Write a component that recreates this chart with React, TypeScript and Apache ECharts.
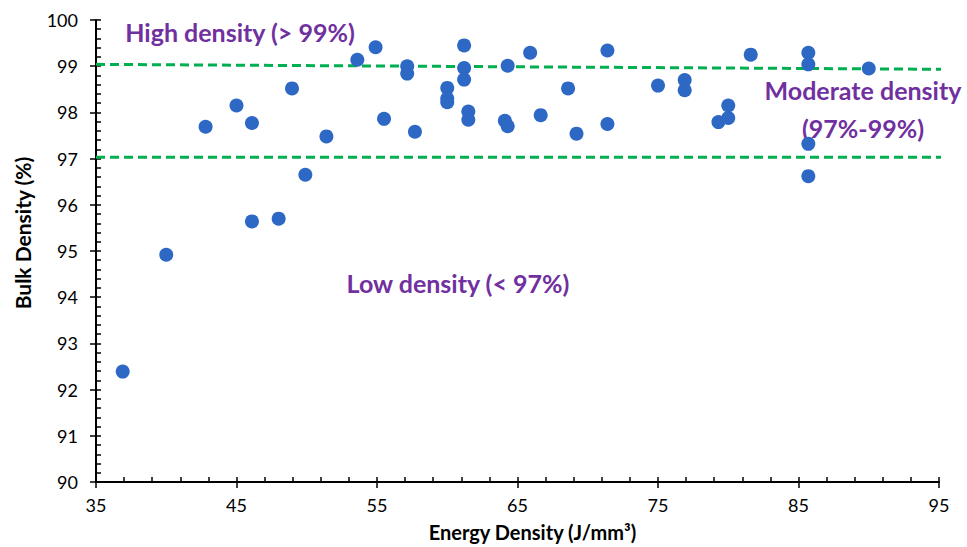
import React, { useEffect, useRef } from "react";
import * as echarts from "echarts";

const energyDensity = [
  36.9, 40.0, 42.8, 45.0, 46.1, 46.1, 48.0, 48.95, 49.9, 51.4,
  53.6, 54.9, 55.5, 57.15, 57.15, 57.7, 60.0, 60.0, 60.0, 61.2,
  61.2, 61.2, 61.5, 61.5, 64.1, 64.3, 64.3, 65.9, 66.65, 68.6,
  69.2, 71.4, 71.4, 75.0, 76.9, 76.9, 79.3, 80.0, 80.0, 81.6,
  85.7, 85.7, 85.7, 85.7, 90.0,
];
const bulkDensity = [
  92.39, 94.92, 97.69, 98.15, 97.77, 95.64, 95.7, 98.52, 96.65, 97.48,
  99.14, 99.41, 97.86, 99.0, 98.84, 97.58, 98.53, 98.3, 98.22, 99.45,
  98.96, 98.71, 98.02, 97.84, 97.82, 99.01, 97.7, 99.29, 97.94, 98.52,
  97.54, 99.34, 97.75, 98.58, 98.7, 98.48, 97.79, 98.15, 97.88, 99.25,
  99.29, 99.04, 97.32, 96.62, 98.95,
];
const highLine = [
  [35, 99.04],
  [97.05, 98.93],
];
const lowLine = [
  [35, 97.03],
  [97.05, 97.03],
];
const xRange = [35, 95];
const yRange = [90, 100];

const FONT = "Lato, 'Open Sans', sans-serif";
const PURPLE = "#7030A0";

export default function App() {
  const ref = useRef<HTMLDivElement>(null);
  useEffect(() => {
    document.body.style.margin = "0";
    if (!ref.current) return;
    const chart = echarts.init(ref.current, undefined, { renderer: "svg" });
    const points = energyDensity.map((x, i) => [x, bulkDensity[i]]);
    const axisCommonX = {
      type: "value",
      min: xRange[0],
      max: xRange[1],
      interval: 10,
      splitNumber: 5,
      splitLine: { show: false },
    };
    const axisCommonY = {
      type: "value",
      min: yRange[0],
      max: yRange[1],
      interval: 1,
      splitNumber: 5,
      splitLine: { show: false },
    };
    const annot = (text: string, x: number, y: number) => ({
      type: "text",
      x,
      y,
      style: {
        text,
        fill: PURPLE,
        font: `bold 25px ${FONT}`,
        align: "center",
        verticalAlign: "middle",
      },
    });
    chart.setOption({
      animation: false,
      textStyle: { fontFamily: FONT },
      grid: {
        left: 96,
        right: 28,
        top: 20,
        bottom: 65,
        containLabel: false,
        outerBoundsMode: "none",
      },
      xAxis: [
        {
          ...axisCommonX,
          position: "bottom",
          name: "Energy Density (J/mm³)",
          nameLocation: "middle",
          nameGap: 40,
          nameTextStyle: {
            fontFamily: FONT,
            fontWeight: "bold",
            fontSize: 20,
            color: "#000",
            padding: [0, 0, 0, 30],
          },
          axisLine: { show: true, lineStyle: { color: "#000", width: 2 } },
          axisTick: { show: true, inside: true, length: 5, lineStyle: { color: "#000", width: 1.5 } },
          minorTick: { show: true, splitNumber: 5, length: 5, lineStyle: { color: "#000", width: 1.5 } },
          axisLabel: { fontFamily: FONT, fontSize: 18, color: "#000", margin: 14 },
        },
        {
          ...axisCommonX,
          position: "bottom",
          axisLine: { show: false },
          axisTick: { show: true, inside: false, length: 6, lineStyle: { color: "#000", width: 1.5 } },
          axisLabel: { show: false },
        },
      ],
      yAxis: [
        {
          ...axisCommonY,
          position: "left",
          name: "Bulk Density (%)",
          nameLocation: "middle",
          nameGap: 63,
          nameTextStyle: {
            fontFamily: FONT,
            fontWeight: "bold",
            fontSize: 21,
            color: "#000",
            padding: [0, 0, 0, 36],
          },
          axisLine: { show: true, lineStyle: { color: "#000", width: 2 } },
          axisTick: { show: true, inside: true, length: 5, lineStyle: { color: "#000", width: 1.5 } },
          minorTick: { show: true, splitNumber: 5, length: 5, lineStyle: { color: "#000", width: 1.5 } },
          axisLabel: { fontFamily: FONT, fontSize: 18, color: "#000", margin: 18 },
        },
        {
          ...axisCommonY,
          position: "left",
          axisLine: { show: false },
          axisTick: { show: true, inside: false, length: 6, lineStyle: { color: "#000", width: 1.5 } },
          axisLabel: { show: false },
        },
      ],
      series: [
        {
          type: "line",
          data: highLine,
          clip: false,
          symbol: "none",
          lineStyle: { color: "#00B050", width: 3, type: [9, 5] },
          z: 1,
        },
        {
          type: "line",
          data: lowLine,
          clip: false,
          symbol: "none",
          lineStyle: { color: "#00B050", width: 3, type: [9, 5] },
          z: 1,
        },
        {
          type: "scatter",
          data: points,
          symbol: "circle",
          symbolSize: 14,
          itemStyle: { color: "#2D68C4", opacity: 1 },
          z: 3,
        },
      ],
      graphic: [
        annot("High density (> 99%)", 240, 32),
        annot("Moderate density", 863, 90),
        annot("(97%-99%)", 863, 128),
        annot("Low density (< 97%)", 458, 283),
      ],
    });
    return () => chart.dispose();
  }, []);
  return <div ref={ref} style={{ width: 967, height: 547 }} />;
}
